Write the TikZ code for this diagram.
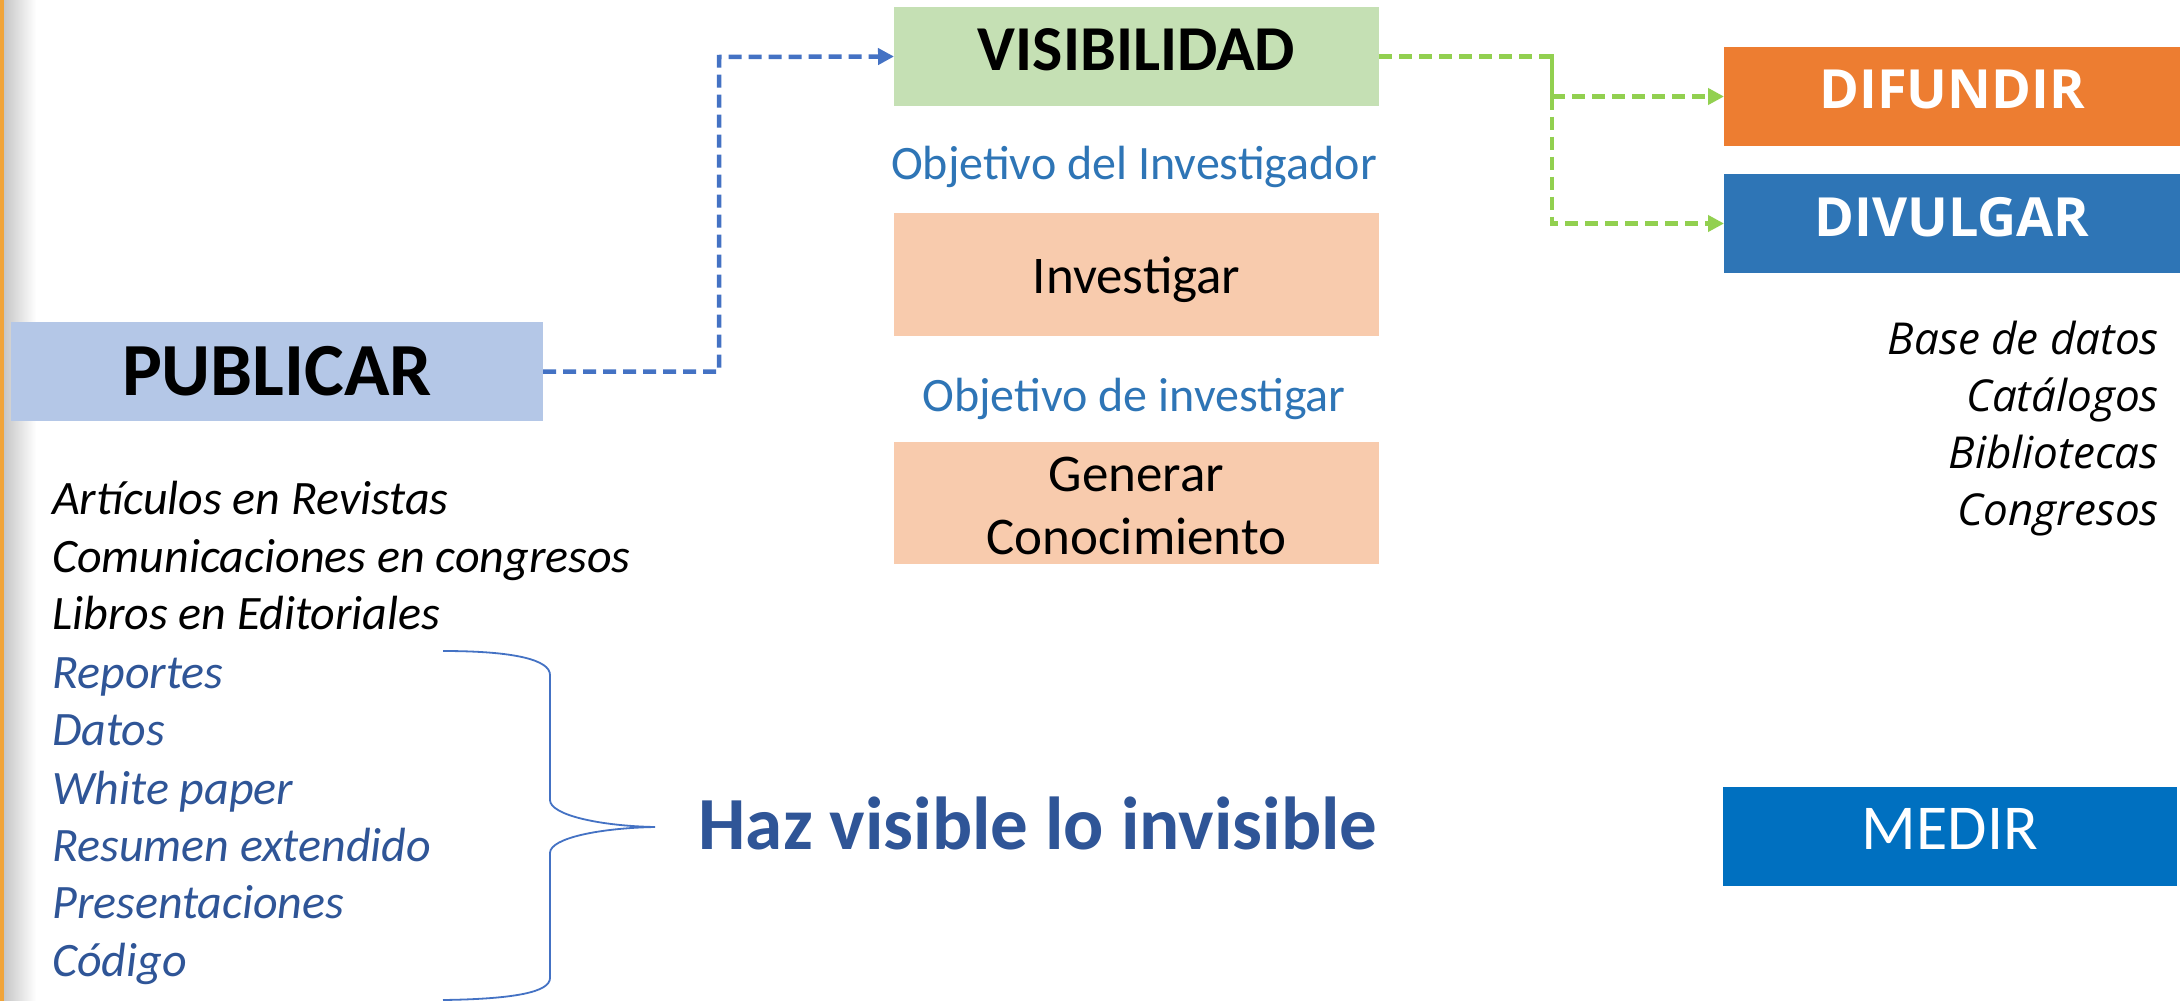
\documentclass[tikz,border=0pt]{standalone}
\usepackage{fontspec}
\setmainfont{Carlito}
\newfontfamily\segoe{Open Sans}
\usetikzlibrary{arrows.meta}
\definecolor{pubblue}{HTML}{B4C7E7}
\definecolor{visgreen}{HTML}{C5E0B4}
\definecolor{peach}{HTML}{F8CBAD}
\definecolor{difor}{HTML}{ED7D31}
\definecolor{divbl}{HTML}{2E75B6}
\definecolor{medbl}{HTML}{0070C0}
\definecolor{objbl}{HTML}{2E75B6}
\definecolor{darkbl}{HTML}{2F5597}
\definecolor{lineblue}{HTML}{4472C4}
\definecolor{linegreen}{HTML}{92D050}
\definecolor{edgeor}{HTML}{F0A43A}
\begin{document}
\begin{tikzpicture}[x=1pt,y=-1pt,
  box/.style={inner sep=0pt, outer sep=0pt, align=center},
  bluedash/.style={draw=lineblue, line width=4.5pt, dash pattern=on 13pt off 7pt, -{Triangle[length=16pt,width=16pt]}},
  greendash/.style={draw=linegreen, line width=4.5pt, dash pattern=on 13pt off 7pt},
  greenarrow/.style={greendash, -{Triangle[length=16pt,width=16pt]}},
  leftitem/.style={anchor=base west, inner sep=0pt, font=\fontsize{48}{52}\selectfont\itshape},
  rightitem/.style={anchor=base east, inner sep=0pt, font=\segoe\fontsize{44}{48}\selectfont\itshape},
  objtext/.style={inner sep=0pt, text=objbl, font=\fontsize{48}{52}\selectfont}
]
\useasboundingbox (0,0) rectangle (2184,1001);
\fill[white] (0,0) rectangle (2184,1001);
\shade[left color=black!25, right color=white] (0,0) rectangle (36,1001);
\fill[edgeor] (0,0) rectangle (4,1001);

% boxes
\node[box, fill=pubblue, minimum width=532pt, minimum height=99pt] (pub) at (277,371.5) {};
\node[inner sep=0pt, font=\fontsize{75}{80}\selectfont\bfseries] (pubt) at (pub) {PUBLICAR};
\node[box, fill=visgreen, minimum width=485pt, minimum height=99pt] (vis) at (1136.5,56.5) {};
\node[inner sep=0pt, font=\fontsize{64}{68}\selectfont\bfseries] (vist) at ([yshift=7pt]vis.center) {VISIBILIDAD};
\node[box, fill=peach, minimum width=485pt, minimum height=123pt] (inv) at (1136.5,274.5) {};
\node[inner sep=0pt, font=\fontsize{53}{64}\selectfont] (invt) at ([yshift=-5pt]inv.center) {Investigar};
\node[box, fill=peach, minimum width=485pt, minimum height=122pt] (gen) at (1136.5,503) {};
\node[inner sep=0pt, align=center, font=\fontsize{53}{63}\selectfont] (gent) at ([yshift=-3pt]gen.center) {Generar\\Conocimiento};
\node[box, fill=difor, minimum width=456pt, minimum height=99pt] (dif) at (1952,96.5) {};
\node[inner sep=0pt, text=white, font=\segoe\fontsize{54}{58}\selectfont\bfseries] (dift) at ([yshift=7pt]dif.center) {DIFUNDIR};
\node[box, fill=divbl, minimum width=456pt, minimum height=99pt] (div) at (1952,223.5) {};
\node[inner sep=0pt, text=white, font=\segoe\fontsize{54}{58}\selectfont\bfseries] (divt) at ([yshift=6pt]div.center) {DIVULGAR};
\node[box, fill=medbl, minimum width=454pt, minimum height=99pt] (med) at (1950,836.5) {};
\node[inner sep=0pt, text=white, font=\fontsize{64}{68}\selectfont] (medt) at ([yshift=8pt]med.center) {MEDIR};

% objective labels
\node[objtext] (obj1) at (1134,167) {Objetivo del Investigador};
\node[objtext] (obj2) at (1134,399) {Objetivo de investigar};

% connectors
\coordinate (c1) at (719,57);
\draw[bluedash] (pub.east) -| (c1) -- (vis.west);
\coordinate (g1) at (1552,96.5);
\coordinate (g2) at (1552,223.5);
\draw[greendash] (vis.east) -| (g1);
\draw[greenarrow] (g1) -- (dif.west);
\draw[greenarrow] (vis.east -| g1) -- (g2) -- (div.west);

% left list
\node[leftitem] (l1) at (52,514) {Artículos en Revistas};
\node[leftitem] (l2) at (52,572) {Comunicaciones en congresos};
\node[leftitem] (l3) at (52,629) {Libros en Editoriales};
\node[leftitem, text=darkbl] (l4) at (52,688) {Reportes};
\node[leftitem, text=darkbl] (l5) at (52,745) {Datos};
\node[leftitem, text=darkbl] (l6) at (52,804) {White paper};
\node[leftitem, text=darkbl] (l7) at (52,861) {Resumen extendido};
\node[leftitem, text=darkbl] (l8) at (52,918) {Presentaciones};
\node[leftitem, text=darkbl] (l9) at (52,976) {Código};

% brace
\draw[lineblue, line width=1.8pt] (443,651) .. controls (515,651) and (550,660) .. (550,675)
  -- (550,800) .. controls (550,815) and (600,826) .. (655,827)
  .. controls (600,828) and (550,838) .. (550,853)
  -- (550,978) .. controls (550,992) and (515,999) .. (443,1000);

\node[inner sep=0pt, text=darkbl, font=\fontsize{75}{80}\selectfont\bfseries] (haz) at (1038,823) {Haz visible lo invisible};

% right list
\node[rightitem] (r1) at (2159,354) {Base de datos};
\node[rightitem] (r2) at (2159,411) {Catálogos};
\node[rightitem] (r3) at (2159,468) {Bibliotecas};
\node[rightitem] (r4) at (2159,525) {Congresos};
\end{tikzpicture}
\end{document}
